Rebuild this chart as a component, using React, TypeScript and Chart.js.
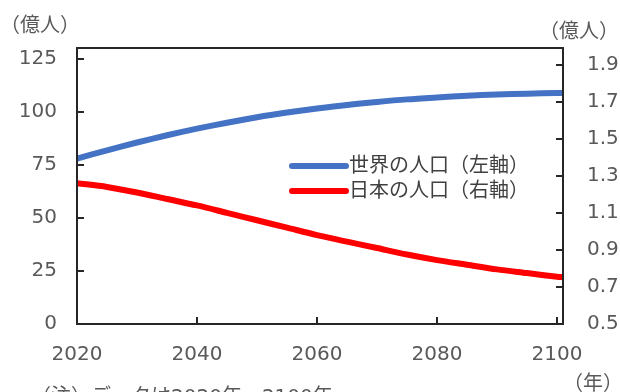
import React, { useEffect, useRef } from "react";
import { Chart, registerables } from "chart.js";

Chart.register(...registerables);

const years = [2020, 2025, 2030, 2035, 2040, 2045, 2050, 2055, 2060, 2065, 2070, 2075, 2080, 2085, 2090, 2095, 2100, 2101];
const worldPop = [77.9, 81.8, 85.5, 88.9, 92.0, 94.8, 97.4, 99.6, 101.5, 103.2, 104.6, 105.8, 106.7, 107.5, 108.1, 108.5, 108.8, 108.8];
const japanPop = [1.26, 1.24, 1.21, 1.175, 1.14, 1.1, 1.06, 1.02, 0.98, 0.945, 0.91, 0.875, 0.845, 0.82, 0.795, 0.775, 0.755, 0.753];

const xTicks = [2020, 2040, 2060, 2080, 2100];
const leftTicks = [0, 25, 50, 75, 100, 125];
const rightTicks = [0.5, 0.7, 0.9, 1.1, 1.3, 1.5, 1.7, 1.9];

const seriesLabels = ["世界の人口（左軸）", "日本の人口（右軸）"];
const unitLeft = "（億人）";
const unitRight = "（億人）";
const unitX = "（年）";
const noteText = "（注）データは2020年～2100年";

const FONT = '"DejaVu Sans", "Noto Sans CJK JP", sans-serif';
const TICK_COLOR = "#595959";
const TEXT_COLOR = "#404040";
const AXIS_COLOR = "#262626";

const framePlugin = {
  id: "frameAndLegend",
  afterDatasetsDraw(chart: any) {
    const { ctx, chartArea: a, scales } = chart;
    ctx.save();
    // frame
    ctx.strokeStyle = AXIS_COLOR;
    ctx.lineWidth = 2;
    ctx.strokeRect(a.left, a.top, a.right - a.left, a.bottom - a.top);
    // inward tick marks
    const L = 7;
    ctx.beginPath();
    scales.x.ticks.forEach((t: any) => {
      const px = Math.round(scales.x.getPixelForValue(t.value));
      ctx.moveTo(px, a.bottom);
      ctx.lineTo(px, a.bottom - L);
    });
    scales.y.ticks.forEach((t: any) => {
      const py = Math.round(scales.y.getPixelForValue(t.value));
      ctx.moveTo(a.left, py);
      ctx.lineTo(a.left + L, py);
    });
    scales.y1.ticks.forEach((t: any) => {
      const py = Math.round(scales.y1.getPixelForValue(t.value));
      ctx.moveTo(a.right, py);
      ctx.lineTo(a.right - L, py);
    });
    ctx.stroke();

    // legend
    ctx.font = `20px ${FONT}`;
    ctx.textBaseline = "middle";
    ctx.textAlign = "left";
    const lx0 = 292, lx1 = 346, tx = 349;
    const rows = [166, 191];
    chart.data.datasets.forEach((ds: any, i: number) => {
      ctx.beginPath();
      ctx.strokeStyle = ds.borderColor;
      ctx.lineWidth = 6;
      ctx.lineCap = "round";
      ctx.moveTo(lx0, rows[i]);
      ctx.lineTo(lx1, rows[i]);
      ctx.stroke();
      ctx.fillStyle = TEXT_COLOR;
      ctx.fillText(ds.label, tx, rows[i] + 1);
    });

    // unit labels
    ctx.fillStyle = TICK_COLOR;
    ctx.textBaseline = "middle";
    ctx.textAlign = "left";
    ctx.fillText(unitLeft, 0, 27);
    ctx.fillText(unitRight, 539, 33);
    ctx.fillText(unitX, 563, 385);
    ctx.textBaseline = "top";
    ctx.fillText(noteText, 31, 388);
    ctx.restore();
  },
};

export default function App() {
  const ref = useRef<HTMLCanvasElement | null>(null);
  useEffect(() => {
    if (!ref.current) return;
    const chart = new Chart(ref.current, {
      type: "line",
      data: {
        labels: years,
        datasets: [
          {
            label: seriesLabels[0],
            data: years.map((y, i) => ({ x: y, y: worldPop[i] })),
            borderColor: "#4472C4",
            backgroundColor: "#4472C4",
            borderWidth: 6,
            pointRadius: 0,
            tension: 0.3,
            yAxisID: "y",
          },
          {
            label: seriesLabels[1],
            data: years.map((y, i) => ({ x: y, y: japanPop[i] })),
            borderColor: "#FF0000",
            backgroundColor: "#FF0000",
            borderWidth: 6,
            pointRadius: 0,
            tension: 0.3,
            yAxisID: "y1",
          },
        ],
      },
      options: {
        animation: false,
        responsive: true,
        maintainAspectRatio: false,
        layout: { padding: { top: 48, left: 0, right: 0, bottom: 0 } },
        plugins: { legend: { display: false }, tooltip: { enabled: false } },
        scales: {
          x: {
            type: "linear",
            min: 2020,
            max: 2101,
            afterBuildTicks: (s: any) => {
              s.ticks = xTicks.map((v) => ({ value: v }));
            },
            afterFit: (s: any) => {
              s.height = 68;
            },
            grid: { display: false, drawTicks: false },
            border: { display: false },
            ticks: {
              padding: 19,
              color: TICK_COLOR,
              font: { family: FONT, size: 20 },
              maxRotation: 0,
              autoSkip: false,
              callback: (v: any) => String(v),
            },
          },
          y: {
            type: "linear",
            position: "left",
            min: 0,
            max: 130,
            afterBuildTicks: (s: any) => {
              s.ticks = leftTicks.map((v) => ({ value: v }));
            },
            afterFit: (s: any) => {
              s.width = 77;
            },
            grid: { display: false, drawTicks: false },
            border: { display: false },
            ticks: {
              padding: 20,
              color: TICK_COLOR,
              font: { family: FONT, size: 20 },
              callback: (v: any) => String(v),
            },
          },
          y1: {
            type: "linear",
            position: "right",
            min: 0.5,
            max: 1.99,
            afterBuildTicks: (s: any) => {
              s.ticks = rightTicks.map((v) => ({ value: v }));
            },
            afterFit: (s: any) => {
              s.width = 57;
            },
            grid: { display: false, drawTicks: false },
            border: { display: false },
            ticks: {
              padding: 24,
              color: TICK_COLOR,
              font: { family: FONT, size: 20 },
              callback: (v: any) => Number(v).toFixed(1),
            },
          },
        },
      },
      plugins: [framePlugin],
    });
    return () => chart.destroy();
  }, []);
  return (
    <div style={{ position: "fixed", left: 0, top: 0, width: 620, height: 392, background: "#fff" }}>
      <canvas ref={ref} />
    </div>
  );
}
